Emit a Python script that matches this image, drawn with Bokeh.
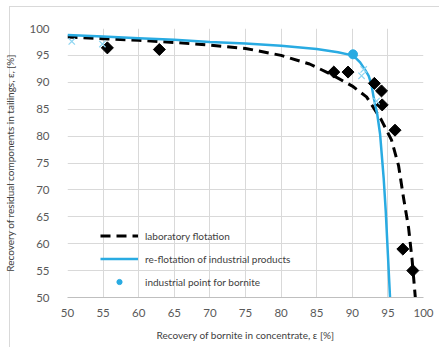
import math
from bokeh.plotting import figure
from bokeh.models import Legend, LegendItem, FixedTicker
from bokeh.embed import file_html
from bokeh.resources import INLINE

# laboratory flotation trend (dashed)
lab_x = [50, 55, 60, 65, 70, 75, 80, 84, 87, 90, 92, 94, 95.5, 96.5, 97.2, 97.9, 98.4, 98.85]
lab_y = [98.4, 98.1, 97.8, 97.4, 96.9, 96.3, 95.0, 93.4, 91.5, 89.3, 87.3, 83.2, 79.3, 74.5, 68.5, 63.0, 57.0, 50.0]

# re-flotation of industrial products (solid blue)
ref_x = [50, 55, 60, 65, 70, 75, 80, 85, 88, 89.7, 90.5, 91.1, 91.8, 92.3, 92.7, 93.0, 93.5, 93.9, 94.4, 94.7, 95.0, 95.3]
ref_y = [98.8, 98.5, 98.2, 97.9, 97.5, 97.2, 96.8, 96.2, 95.6, 95.1, 94.5, 93.7, 92.3, 91.2, 89.5, 87.2, 84.1, 80.4, 72.3, 66.0, 58.0, 50.0]

# laboratory points (black diamonds)
pts_x = [55.6, 62.9, 87.4, 89.4, 93.1, 94.1, 94.2, 96.0, 97.1, 98.5]
pts_y = [96.4, 96.1, 91.9, 91.9, 89.8, 88.4, 85.8, 81.1, 59.0, 55.0]

# re-flotation points (light blue crosses)
cr_x = [50.6, 54.9, 91.6, 91.3, 93.4]
cr_y = [97.6, 97.1, 92.4, 91.2, 86.5]

# industrial point for bornite
ind_x = [90.1]
ind_y = [95.2]

ticks = [50, 55, 60, 65, 70, 75, 80, 85, 90, 95, 100]

BLUE = "#29abe2"
FONT = "Lato"

p = figure(width=439, height=347, x_range=(50, 100), y_range=(50, 100),
           output_backend="svg", toolbar_location=None,
           min_border_left=67, min_border_right=16, min_border_top=28, min_border_bottom=50)
p.outline_line_color = None
p.border_fill_alpha = 0
p.background_fill_color = "white"
p.styles = {
    "background": "linear-gradient(#d9d9d9, #d9d9d9) 9px 6px / 1px 100% no-repeat, "
                  "linear-gradient(#d9d9d9, #d9d9d9) 9px 6px / 100% 1px no-repeat, white"
}

for ax in (p.xaxis[0], p.yaxis[0]):
    ax.ticker = FixedTicker(ticks=ticks)
    ax.major_tick_line_color = None
    ax.minor_tick_line_color = None
    ax.major_label_text_font = FONT
    ax.major_label_text_font_size = "11.5px"
    ax.major_label_text_color = "#595959"
    ax.axis_label_text_font = FONT
    ax.axis_label_text_font_size = "10px"
    ax.axis_label_text_font_style = "normal"
    ax.axis_label_text_color = "#404040"

p.xaxis.axis_line_color = "#bfbfbf"
p.yaxis.axis_line_color = None
p.xaxis.major_label_standoff = 5
p.yaxis.major_label_standoff = 12
p.xaxis.axis_label = "Recovery of bornite in concentrate, ε [%]"
p.yaxis.axis_label = "Recovery of residual components in tailings, εᵣ [%]"
p.xaxis.axis_label_standoff = 9
p.yaxis.axis_label_standoff = 10

p.xgrid.ticker = FixedTicker(ticks=ticks)
p.ygrid.ticker = FixedTicker(ticks=ticks)
p.grid.grid_line_color = "#d9d9d9"
p.grid.grid_line_width = 1

lab = p.line(lab_x, lab_y, line_color="black", line_width=3, line_dash="10 6")
ref = p.line(ref_x, ref_y, line_color=BLUE, line_width=2.5)
p.scatter(pts_x, pts_y, marker="square", angle=math.pi / 4, size=8.5, color="black")
p.scatter(cr_x, cr_y, marker="x", size=9, line_color="#8fd6f2", line_width=1.2)
p.scatter(ind_x, ind_y, marker="circle", size=9, color=BLUE)
ind_leg = p.scatter([-100], [-100], marker="circle", size=6, color=BLUE)

legend = Legend(items=[
    LegendItem(label="laboratory flotation", renderers=[lab]),
    LegendItem(label="re-flotation of industrial products", renderers=[ref]),
    LegendItem(label="industrial point for bornite", renderers=[ind_leg]),
], location=(33, 4))
legend.background_fill_alpha = 0
legend.border_line_color = None
legend.padding = 0
legend.margin = 0
legend.spacing = 0
legend.glyph_width = 38
legend.glyph_height = 13
legend.label_height = 23
legend.label_standoff = 7
legend.label_text_font = FONT
legend.label_text_font_size = "10px"
legend.label_text_color = "#404040"
p.add_layout(legend, "center")

open("out.html", "w").write(file_html(p, INLINE))
